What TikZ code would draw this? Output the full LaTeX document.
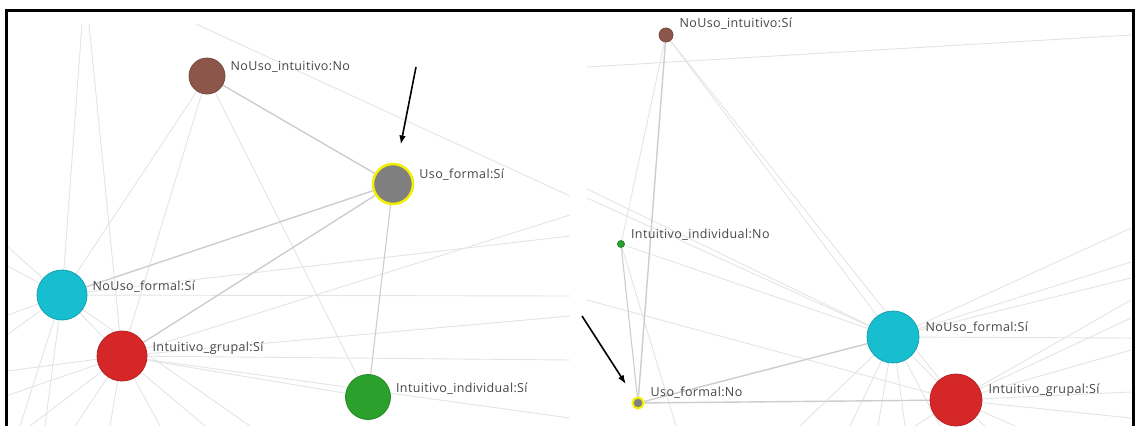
\documentclass[tikz,border=0pt]{standalone}
\usepackage{fontspec}
\setmainfont{Open Sans}
\newfontfamily\lblfont[LetterSpace=3]{Open Sans}
\usepackage{xcolor}
\usetikzlibrary{arrows.meta}

\definecolor{nbrown}{HTML}{8C564B}
\definecolor{ncyan}{HTML}{17BECF}
\definecolor{nred}{HTML}{D62728}
\definecolor{ngreen}{HTML}{2CA02C}
\definecolor{ngray}{HTML}{7F7F7F}
\definecolor{nring}{HTML}{F2F000}
\definecolor{faintgray}{HTML}{E4E4E4}
\definecolor{edgegray}{HTML}{CDCDCD}
\definecolor{lblgray}{HTML}{454545}

\pgfdeclarelayer{bg}
\pgfsetlayers{bg,main}

\begin{document}
\begin{tikzpicture}[
  x=1pt, y=-1pt,
  dot/.style={circle, inner sep=0pt, draw=#1!85!black, fill=#1, line width=0.8pt},
  hit/.style={circle, inner sep=0pt, draw=nring, fill=ngray, line width=#1},
  lbl/.style={anchor=west, inner sep=0pt, font=\lblfont\fontsize{12.5}{14}\selectfont, text=lblgray},
  faint/.style={draw=faintgray, line width=0.9pt},
  edge/.style={draw=edgegray, line width=1.4pt},
  pointer/.style={-{Latex[length=9pt, width=6.5pt]}, line width=1.6pt, black}
]
  \useasboundingbox (0,0) rectangle (1135,426);

  % left panel
  \node[dot=nbrown, minimum size=36pt] (noIntNo) at (207,76) {};
  \node[hit=2.5pt, minimum size=40pt] (usoSi) at (393,184) {};
  \node[dot=ncyan, minimum size=50pt] (noFormL) at (62,295) {};
  \node[dot=nred, minimum size=50pt] (grupL) at (122,356) {};
  \node[dot=ngreen, minimum size=45pt] (indSi) at (368,397) {};

  \node[lbl] (noIntNoTxt) at ([shift={(5,-9)}]noIntNo.east) {NoUso\_intuitivo:No};
  \node[lbl] (usoSiTxt) at ([shift={(5,-9)}]usoSi.east) {Uso\_formal:Sí};
  \node[lbl] (noFormLTxt) at ([shift={(5,-8)}]noFormL.east) {NoUso\_formal:Sí};
  \node[lbl] (grupLTxt) at ([shift={(5,-8)}]grupL.east) {Intuitivo\_grupal:Sí};
  \node[lbl] (indSiTxt) at ([shift={(5,-8)}]indSi.east) {Intuitivo\_individual:Sí};

  % right panel
  \node[dot=nbrown, minimum size=14pt] (noIntSi) at (666,35) {};
  \node[dot=ngreen, minimum size=7pt] (indNo) at (621,244) {};
  \node[hit=2pt, minimum size=11pt] (usoNo) at (638,403) {};
  \node[dot=ncyan, minimum size=52pt] (noFormR) at (893,337) {};
  \node[dot=nred, minimum size=52pt] (grupR) at (956,400) {};

  \node[lbl] (noIntSiTxt) at ([shift={(6,-11)}]noIntSi.east) {NoUso\_intuitivo:Sí};
  \node[lbl] (indNoTxt) at ([shift={(6,-9)}]indNo.east) {Intuitivo\_individual:No};
  \node[lbl] (usoNoTxt) at ([shift={(6,-10)}]usoNo.east) {Uso\_formal:No};
  \node[lbl] (noFormRTxt) at ([shift={(6,-9)}]noFormR.east) {NoUso\_formal:Sí};
  \node[lbl] (grupRTxt) at ([shift={(6,-10)}]grupR.east) {Intuitivo\_grupal:Sí};

  \begin{pgfonlayer}{bg}
  % background edges, left
  \begin{scope}
    \clip (7,12) rectangle (570,426);
    \foreach \x/\y [count=\i] in {0/240, 0/262, 0/318, 0/340, 20/426, 45/426,
        82/24, 570/236, 570/296, 250/426}
      {\coordinate (cl\i) at (\x,\y); \draw[faint] (noFormL.center) -- (cl\i);}
    \foreach \x/\y [count=\i] in {0/372, 0/398, 30/426, 75/426, 110/426,
        160/426, 205/426, 89/24, 570/215, 570/316, 570/360, 570/418}
      {\coordinate (rl\i) at (\x,\y); \draw[faint] (grupL.center) -- (rl\i);}
    \coordinate (topA) at (196,24);
    \coordinate (topB) at (570,196);
    \draw[faint] (topA) -- (topB);
    \draw[faint] (noIntNo) -- (noFormL);
    \draw[faint] (noIntNo) -- (grupL);
    \draw[faint] (noIntNo) -- (indSi);
    \draw[faint] (noFormL) -- (grupL);
    \draw[faint] (grupL) -- (indSi);
  \end{scope}

  % background edges, right
  \begin{scope}
    \clip (586,12) rectangle (1131,426);
    \foreach \x/\y [count=\i] in {587/189, 587/198, 1131/228, 1131/262,
        1131/278, 1131/338, 800/426, 850/426, 878/426, 905/426, 940/426}
      {\coordinate (cr\i) at (\x,\y); \draw[faint] (noFormR.center) -- (cr\i);}
    \foreach \x/\y [count=\i] in {1131/300, 1131/318, 1131/350, 1131/392,
        1131/418, 915/426, 985/426, 1015/426, 587/300}
      {\coordinate (rr\i) at (\x,\y); \draw[faint] (grupR.center) -- (rr\i);}
    \coordinate (topC) at (587,67);
    \coordinate (topD) at (1131,35);
    \draw[faint] (topC) -- (topD);
    \coordinate (botE) at (676,426);
    \draw[faint] (indNo) -- (botE);
    \draw[faint] (indNo) -- (noFormR);
    \draw[faint] (noIntSi) -- (indNo);
    \draw[faint] (noIntSi) -- (noFormR);
    \draw[faint] (noIntSi) -- (grupR);
    \draw[faint] (noFormR) -- (grupR);
  \end{scope}

  % edges of the selected nodes
  \draw[edge] (usoSi) -- (noIntNo);
  \draw[edge] (usoSi) -- (noFormL);
  \draw[edge] (usoSi) -- (grupL);
  \draw[edge, line width=1.1pt] (usoSi) -- (indSi);
  \draw[edge] (usoNo) -- (noIntSi);
  \draw[edge, line width=1.1pt] (usoNo) -- (indNo);
  \draw[edge] (usoNo) -- (noFormR);
  \draw[edge] (usoNo) -- (grupR);
  \end{pgfonlayer}

  % pointers
  \coordinate (tipL) at (416,67);
  \coordinate (tipR) at (582,316);
  \draw[pointer, shorten >=19pt] (tipL) -- (usoSi);
  \draw[pointer, shorten >=16pt] (tipR) -- (usoNo);

  % frame
  \draw[line width=3pt] (6,426) -- (6,10.5) -- (1133,10.5) -- (1133,426);
\end{tikzpicture}
\end{document}
